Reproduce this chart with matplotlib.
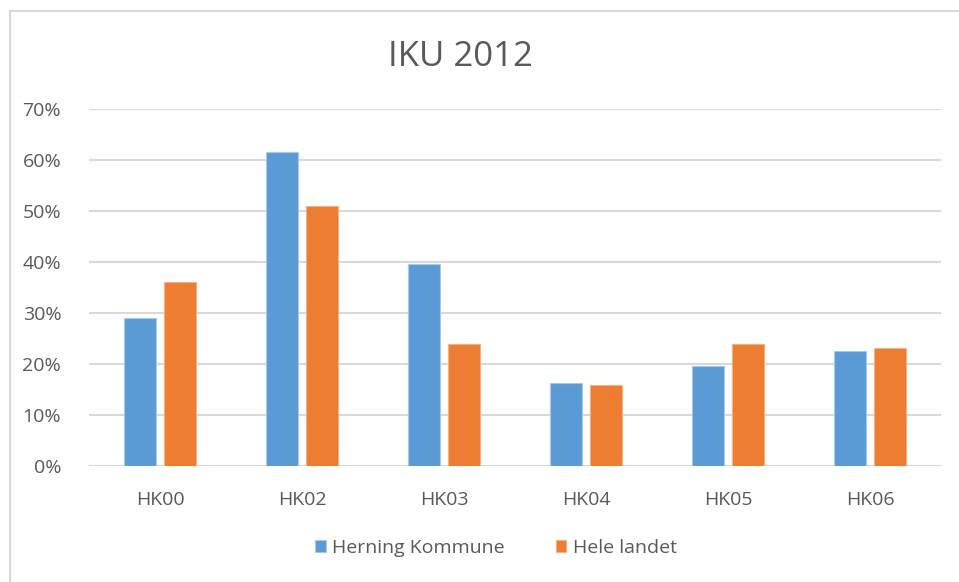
import matplotlib.pyplot as plt
import numpy as np
from matplotlib.lines import Line2D

plt.rcParams['font.family'] = ['Open Sans', 'DejaVu Sans']

categories = ['HK00', 'HK02', 'HK03', 'HK04', 'HK05', 'HK06']
herning = [28.9, 61.6, 39.6, 16.3, 19.5, 22.6]
hele_landet = [36.0, 50.9, 23.8, 15.9, 23.8, 23.1]
yticks = [0, 10, 20, 30, 40, 50, 60, 70]

blue = '#5B9BD5'
orange = '#ED7D31'
grey_txt = '#595959'
grid_col = '#D9D9D9'

W, H = 959, 582
fig = plt.figure(figsize=(W/100, H/100), dpi=100)
ax = fig.add_axes([89/W, 1-465.7/H, (941-89)/W, (465.7-109)/H])

x = np.arange(len(categories))
bw = 0.225
off = 0.142
ax.bar(x-off, herning, bw, color=blue, edgecolor='#A9C8EA', linewidth=0.8,
       label='Herning Kommune', zorder=3)
ax.bar(x+off, hele_landet, bw, color=orange, edgecolor='#F4B183', linewidth=0.8,
       label='Hele landet', zorder=3)

ax.set_xlim(-0.5, len(categories)-0.5)
ax.set_ylim(0, 70)
ax.set_yticks(yticks)
ax.set_yticklabels(['%d%%' % v for v in yticks])
ax.set_xticks(x)
ax.set_xticklabels(categories)
ax.tick_params(axis='both', length=0, labelsize=14, labelcolor=grey_txt)
ax.tick_params(axis='y', pad=20)
ax.tick_params(axis='x', pad=18)
ax.grid(axis='y', color=grid_col, linewidth=1.5, zorder=0)
for s in ax.spines.values():
    s.set_visible(False)

fig.text(460/W, 1-57/H, 'IKU 2012', ha='center', va='center', fontsize=25,
         color=grey_txt)

fig.legend(loc='center', bbox_to_anchor=(496/W, 1-548/H), ncol=2, frameon=False,
           fontsize=14, labelcolor=grey_txt, handlelength=0.55, handleheight=0.6,
           handletextpad=0.35, columnspacing=2.6)

# outer chart border (top and left visible)
fig.add_artist(Line2D([10/W, 10/W], [0, 1-10.5/H], color='#D9D9D9', linewidth=1.5))
fig.add_artist(Line2D([10/W, 1], [1-10.5/H, 1-10.5/H], color='#D9D9D9', linewidth=1.5))

fig.savefig('out.png', dpi=100)
